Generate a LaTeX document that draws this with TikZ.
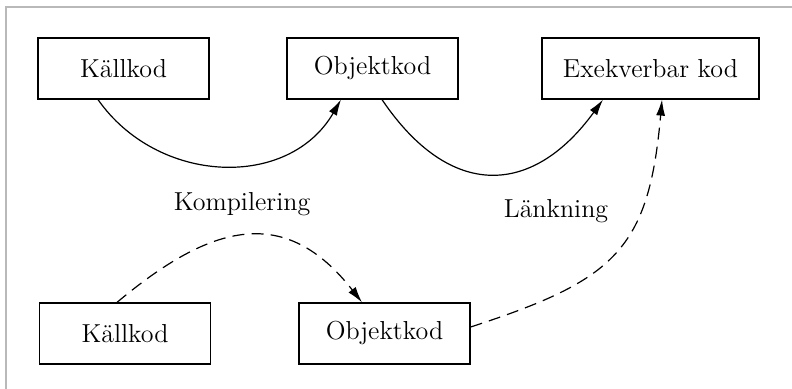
\documentclass[tikz,border=0pt]{standalone}
\usetikzlibrary{arrows.meta,calc,positioning}

\begin{document}
\begin{tikzpicture}[x=0.5pt,y=0.5pt,>={Latex[length=8pt,width=4.5pt]},
  font=\fontsize{13}{15}\selectfont,
  box/.style={draw,line width=0.6pt,minimum width=85.5pt,minimum height=30.5pt,inner sep=0pt},
  flow/.style={->,line width=0.6pt},
  dflow/.style={->,line width=0.6pt,dash pattern=on 6pt off 3.6pt}]
  \useasboundingbox (0,0) rectangle (792,389);
  \draw[gray!55,line width=0.6pt] (6,0) -- (6,382) -- (792,382);

  % Översta raden: hela kedjan
  \node[box] (kallkod) at (123.5,320.5) {Källkod};
  \node[box] (objektkod) at (372.5,320.5) {Objektkod};
  \node[box,minimum width=108.5pt] (exekverbar) at (650.5,320.5) {Exekverbar kod};

  % Nedersta raden
  \node[box] (kallkod2) at (125,55.5) {Källkod};
  \node[box] (objektkod2) at (384.5,55.5) {Objektkod};

  \node (kompilering) at (242,185) {Kompilering};
  \node (lankning) at (556,178) {Länkning};

  \draw[flow] ($(kallkod.south)+(-25.5,0)$) to[out=-55,in=-120,looseness=1.1]
    ($(objektkod.south)+(-31.5,0)$);
  \draw[flow] ($(objektkod.south)+(9.5,0)$) to[out=-56,in=-126,looseness=1.4]
    ($(exekverbar.south)+(-47.5,0)$);

  \draw[dflow] ($(kallkod2.north)+(-8,0)$) to[out=40,in=128,looseness=1.3]
    ($(objektkod2.north)+(-22.5,0)$);
  \draw[dflow] ($(objektkod2.east)+(0,6.5)$) to[out=18,in=-95,looseness=1.3]
    ($(exekverbar.south)+(11.5,0)$);
\end{tikzpicture}
\end{document}
